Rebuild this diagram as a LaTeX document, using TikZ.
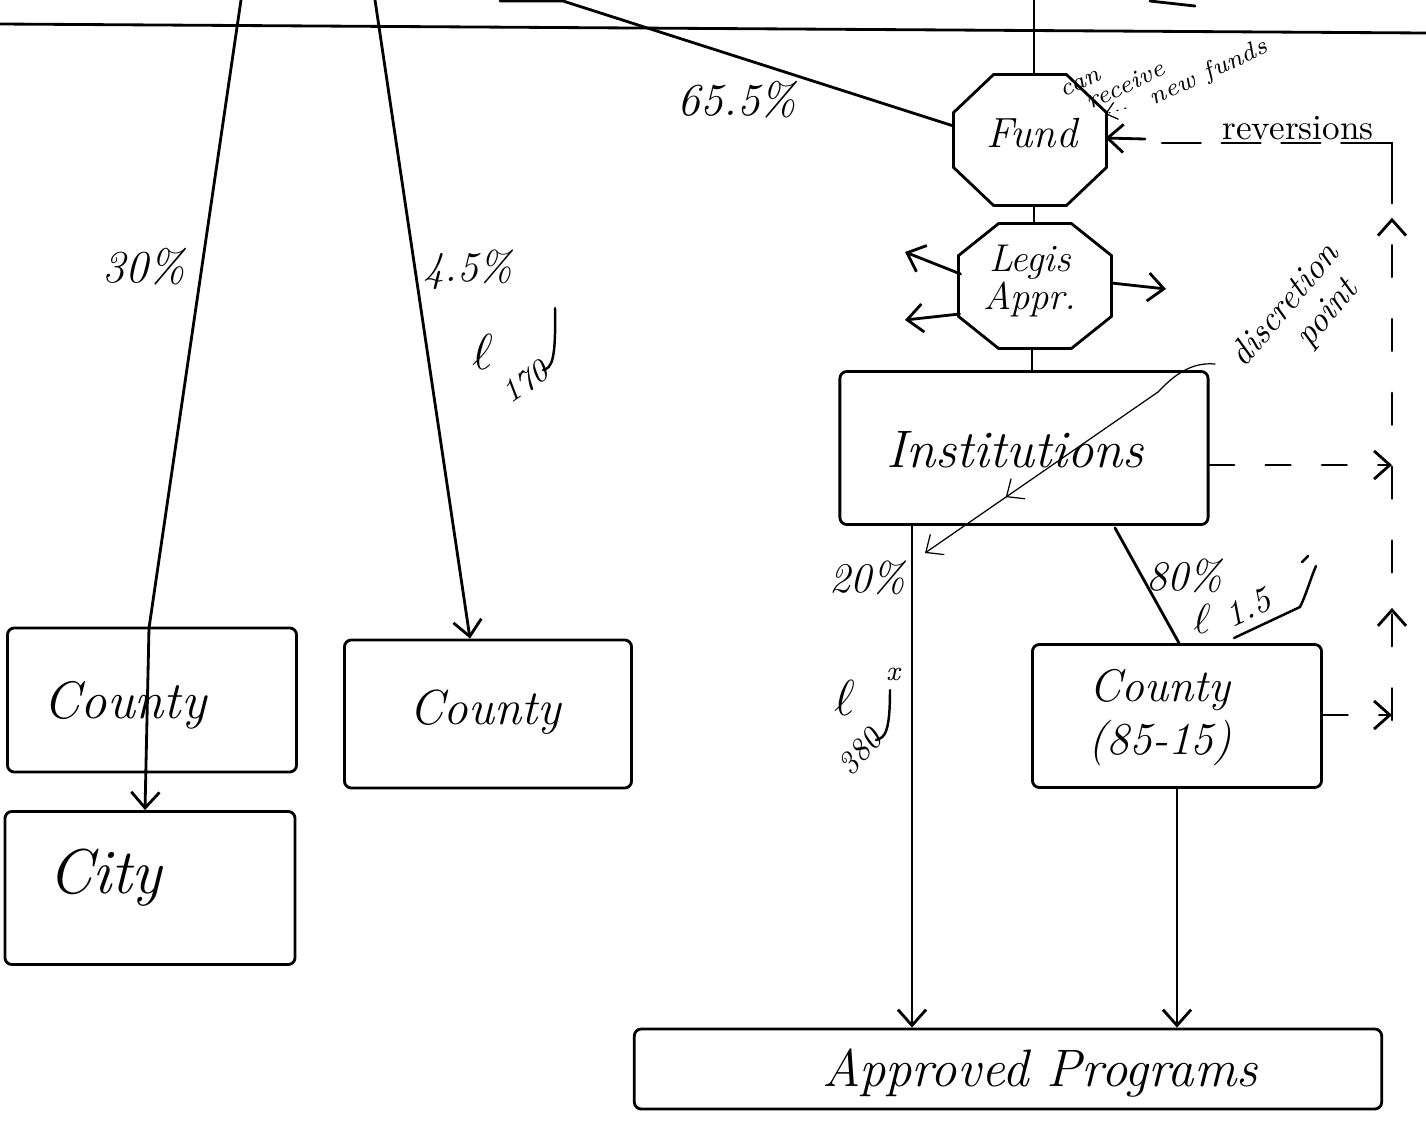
\documentclass[tikz,border=0pt]{standalone}
\usetikzlibrary{arrows.meta,calc,decorations.markings}
\newcommand\octpath[3]{\draw ($(#1.north west)+(#2,0)$) -- ($(#1.north east)+(-#2,0)$) -- ($(#1.north east)+(0,#3)$) -- ($(#1.south east)+(0,-#3)$) -- ($(#1.south east)+(-#2,0)$) -- ($(#1.south west)+(#2,0)$) -- ($(#1.south west)+(0,-#3)$) -- ($(#1.north west)+(0,#3)$) -- cycle;}
\begin{document}
\begin{tikzpicture}[x=0.01cm,y=-0.01cm,line width=0.8pt,line cap=round,
  box/.style={draw,rectangle,rounded corners=2pt,inner sep=0pt},
  octo/.style={rectangle,inner sep=0pt},
  hand/.style={font=\itshape\fontsize{#1}{#1}\selectfont,inner sep=1pt},
  note/.style={font=\itshape\fontsize{7}{6.5}\selectfont,inner sep=0pt},
  tip/.style={-{Straight Barb[length=4.5pt,width=8pt]}},
  smalltip/.style={-{Straight Barb[length=3pt,width=5pt]}},
  revdash/.style={dash pattern=on 9pt off 12pt},
  shortdash/.style={dash pattern=on 7pt off 9pt},
  thinline/.style={line width=0.35pt},
]
\useasboundingbox (0,0) rectangle (1426,1130);
\fill[white] (0,0) rectangle (1426,1130);

% top rule and cut-off strokes
\coordinate (hl) at (0,24);
\coordinate (hr) at (1426,33);
\draw (hl) -- (hr);
\coordinate (ts1) at (1150,1);
\coordinate (ts2) at (1195,6);
\draw (ts1) -- (ts2);

% boxes
\node[box,minimum width=2.89cm,minimum height=1.44cm] (c1) at (152,700) {};
\node[box,minimum width=2.90cm,minimum height=1.53cm] (city) at (150,888) {};
\node[box,minimum width=2.87cm,minimum height=1.48cm] (c2) at (488,714) {};
\node[box,minimum width=3.68cm,minimum height=1.53cm] (inst) at (1024,448) {};
\node[box,minimum width=2.89cm,minimum height=1.43cm] (c3) at (1177,716) {};
\node[box,minimum width=7.47cm,minimum height=0.80cm] (ap) at (1008,1069) {};

% octagons
\node[octo,minimum width=1.5cm,minimum height=1.28cm] (fund) at (1030,140) {};
\node[octo,minimum width=1.5cm,minimum height=1.22cm] (legis) at (1035,286) {};
\octpath{fund}{40}{38}
\octpath{legis}{40}{32}

% box texts
\node[hand=12] (fundt) at (1032,133) {Fund};
\node[hand=11,align=center] (legist) at (1030,281) {Legis\\Appr.};
\node[hand=15] (instt) at (1015,450) {Institutions};
\node[hand=15] (c1t) at (125,705) {County};
\node[hand=18] (cityt) at (105,878) {City};
\node[hand=14] (c2t) at (485,712) {County};
\node[font=\itshape\fontsize{13}{15}\selectfont,align=center] (c3t) at (1160,718) {County\\(85-15)};
\node[hand=15] (apt) at (1040,1073) {Approved Programs};

% percentage labels
\node[hand=13] (l30) at (144,267) {30\%};
\node[hand=12] (l45) at (468,270) {4.5\%};
\node[hand=13] (l655) at (737,100) {65.5\%};
\node[hand=12] (l20) at (867,578) {20\%};
\node[hand=12] (l80) at (1184,576) {80\%};

% top connectors
\coordinate (t1) at (241,0);
\coordinate (b1) at (149,628);
\draw[tip] (t1) -- (b1) -- ($(city.north)+(-5,0)$);
\coordinate (t2) at (375,0);
\draw[tip] (t2) -- ($(c2.north)+(-18,0)$);
\coordinate (t3a) at (500,1);
\coordinate (t3b) at (563,1);
\draw (t3a) -- (t3b) -- ($(fund.west)+(0,-14)$);
\coordinate (t4) at (1034,0);
\draw (t4) -- (t4 |- fund.north);

% main chain
\draw ($(fund.south)+(4,0)$) -- ($(legis.north)+(-1,0)$);
\draw ($(legis.south)+(-3,0)$) -- ($(inst.north)+(8,0)$);
\coordinate (p20) at (912,0);
\draw[tip] (inst.south -| p20) -- (ap.north -| p20);
\coordinate (p80) at (1115,0);
\draw ($(inst.south -| p80)+(0,2)$) -- ($(c3.north)+(2,0)$);
\draw[tip] (c3.south) -- (c3.south |- ap.north);

% Legis side arrows
\coordinate (la) at (905,252);
\coordinate (lb) at (905,320);
\coordinate (lr) at (1166,289);
\draw[tip] ($(legis.west)+(2,-12)$) -- (la);
\draw[tip] ($(legis.west)+(1,28)$) -- (lb);
\draw[tip] ($(legis.east)+(0,-3)$) -- (lr);

% reversions loop
\coordinate (ri) at (1392,465);
\coordinate (rc) at (1392,715);
\draw[tip,shortdash] ($(inst.east)+(0,17)$) -- (ri);
\draw[tip,shortdash] ($(c3.east)+(0,-1)$) -- (rc);
\coordinate (rv0) at (1392,720);
\coordinate (rv1) at (1392,185);
\coordinate (rv2) at (1392,143);
\coordinate (rv3) at (1380,143);
\coordinate (rv4) at (1160,143);
\coordinate (rv5) at (1145,139);
\draw[revdash,postaction={decorate},
  decoration={markings,
    mark=at position 1.12cm with {\arrow{Straight Barb[length=4.5pt,width=8pt]}},
    mark=at position 5.02cm with {\arrow{Straight Barb[length=4.5pt,width=8pt]}}}]
  (rv0) -- (rv1);
\draw (rv1) -- (rv2) -- (rv3);
\draw[dash pattern=on 11pt off 6pt] (rv3) -- (rv4);
\draw[tip] (rv5) -- ($(fund.east)+(-1,-2)$);
\node[font=\fontsize{10}{10}\selectfont,inner sep=1pt] (revt) at (1298,128) {reversions};

% note near Fund
\node[note,rotate=25,align=left] (nt) at (1165,72) {can\\\hspace*{0.8em}receive\\\hspace*{3.2em}new funds};
\coordinate (nf) at (1126,108);
\coordinate (fne) at (1105,114);
\draw[thinline,dotted,smalltip] (nf) -- (fne);

% discretion point
\node[font=\itshape\fontsize{10}{10.5}\selectfont,rotate=50,align=center] (dt) at (1300,318) {discretion\\\hspace*{1.2em}point};
\coordinate (ds) at (1215,364);
\coordinate (dc) at (1158,392);
\coordinate (de) at (925,553);
\draw[thinline,-{Straight Barb[length=4pt,width=7pt]},postaction={decorate},
  decoration={markings,mark=at position 0.72 with {\arrow{Straight Barb[length=4pt,width=7pt]}}}]
  (ds) .. controls (1192,362) and (1175,374) .. (dc) -- (de);

% handwritten amounts
\node[hand=14] (e1) at (483,352) {$\ell$};
\node[font=\itshape\fontsize{9}{9}\selectfont,rotate=35] (e1n) at (525,382) {170};
\coordinate (h1a) at (543,370);
\coordinate (h1b) at (555,308);
\draw[line width=0.7pt] (h1a) .. controls (552,368) and (556,360) .. (h1b);

\node[hand=14] (e2) at (845,698) {$\ell$};
\node[font=\itshape\fontsize{8}{8}\selectfont] (e2x) at (893,674) {x};
\node[font=\itshape\fontsize{9}{9}\selectfont,rotate=50] (e2n) at (860,752) {380};
\coordinate (h2a) at (876,740);
\coordinate (h2b) at (890,690);
\draw[line width=0.7pt] (h2a) .. controls (885,738) and (890,732) .. (h2b);

\node[hand=13] (e3) at (1202,619) {$\ell$};
\node[font=\itshape\fontsize{10}{10}\selectfont,rotate=25] (e3n) at (1248,608) {1.5};
\coordinate (h3a) at (1234,638);
\coordinate (h3b) at (1300,607);
\coordinate (h3c) at (1316,566);
\draw[line width=0.7pt] (h3a) -- (h3b) .. controls (1306,595) and (1310,580) .. (h3c);
\coordinate (h3d) at (1302,562);
\coordinate (h3e) at (1308,556);
\draw[line width=0.7pt] (h3d) -- (h3e);
\end{tikzpicture}
\end{document}
